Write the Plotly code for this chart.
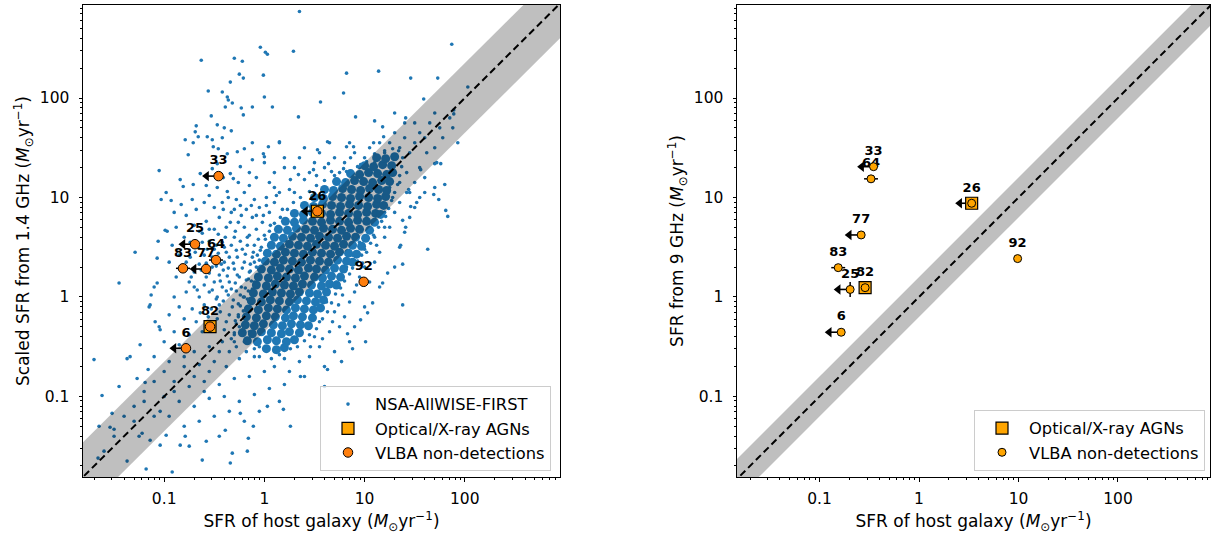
import plotly.graph_objects as go

# ---------------- data ----------------
# VLBA targets: id, host SFR, SFR from 1.4 GHz (scaled), SFR from 9 GHz
src_ids = ["6", "25", "26", "33", "64", "77", "82", "83", "92"]
sfr_host = [0.165, 0.203, 3.38, 0.349, 0.329, 0.262, 0.287, 0.154, 9.8]
sfr_14ghz = [0.305, 3.39, 7.27, 16.4, 2.35, 1.91, 0.503, 1.94, 1.42]
sfr_9ghz = [0.442, 1.19, 8.75, 20.4, 15.4, 4.2, 1.24, 1.97, 2.43]
host_upper_limit = [True, True, True, True, False, True, False, False, False]
is_agn = [False, False, True, False, False, False, True, False, False]
host_err_dex = [0, 0, 0, 0, 0.07, 0, 0, 0.07, 0]
sfr9_err_dex = [0, 0.075, 0, 0, 0, 0, 0, 0, 0]

# scatter of the 1:1 relation (dex)
band_dex_14 = 0.35
band_dex_9 = 0.20

# NSA-AllWISE-FIRST sample, (log10 SFR_host, log10 SFR_1.4GHz), sparse part
nsa_sparse = [
    (0.35, 2.87), (-0.04, 2.51), (0.01, 2.46), (0.03, 2.44), (0.29, 2.47), (-0.63, 2.38), (-0.30, 2.40),
    (-0.22, 2.37), (1.87, 2.54), (0.82, 2.25), (1.14, 2.27), (1.46, 2.20), (1.73, 2.20), (2.03, 2.11),
    (-0.25, 2.24), (-0.21, 2.20), (-0.01, 2.23), (-0.34, 2.16), (-0.56, 2.07), (-0.42, 2.06), (-0.37, 2.01),
    (-0.36, 1.98), (-0.39, 1.91), (-0.32, 1.95), (-0.23, 1.90), (-0.21, 1.83), (-0.12, 1.91), (0.00, 2.01),
    (0.08, 1.91), (0.56, 1.96), (0.79, 2.05), (0.34, 1.81), (1.59, 1.99), (1.89, 1.88), (0.91, 1.81),
    (1.10, 1.77), (1.30, 1.85), (1.41, 1.80), (1.89, 1.84), (-0.53, 1.82), (-0.68, 1.72), (-0.69, 1.66),
    (-0.66, 1.61), (-0.47, 1.73), (-0.40, 1.70), (-0.33, 1.67), (-0.57, 1.61), (-0.52, 1.58), (-0.42, 1.60),
    (-0.79, 1.58), (-0.71, 1.55), (-0.51, 1.51), (-0.46, 1.49), (-0.76, 1.43), (-0.37, 1.44), (-0.27, 1.46),
    (-0.20, 1.49), (-0.12, 1.55), (0.04, 1.51), (-0.01, 1.44), (-0.12, 1.38), (0.15, 1.56), (0.53, 1.48),
    (0.63, 1.56), (0.82, 1.51), (0.89, 1.51), (1.09, 1.55), (1.18, 1.71), (1.19, 1.61), (1.93, 1.55),
    (1.70, 1.34), (1.76, 1.34), (-1.05, 1.27), (-1.03, 0.98), (-0.98, 1.05), (-0.93, 0.97), (-0.84, 1.18),
    (-0.81, 1.11), (-0.71, 1.13), (-0.64, 1.24), (-0.52, 1.29), (-0.47, 1.34), (-0.34, 1.24), (-0.31, 1.19),
    (-0.37, 1.06), (-0.24, 1.31), (0.00, 1.41), (0.26, 1.18), (0.34, 1.23), (0.49, 1.28), (0.67, 1.26),
    (0.79, 1.29), (0.96, 1.33), (1.56, 1.28), (1.80, 1.13), (1.69, 1.03), (1.74, 0.98), (1.81, 0.87),
    (1.83, 0.81), (1.63, 0.48), (1.46, 0.91), (1.44, 1.08), (1.52, 0.95), (1.38, 0.77), (1.41, 0.70),
    (1.36, 0.52), (1.38, 0.33), (1.38, -0.08), (-1.45, 0.14), (-1.29, 0.45), (-1.06, 0.56), (-0.99, 0.67),
    (-1.07, 0.39), (-1.07, 0.14), (-1.13, 0.02), (-1.14, -0.08), (-1.09, -0.25), (-1.04, -0.33),
    (-1.24, -0.48), (-1.34, -0.60), (-1.37, -0.62), (-1.70, -0.63), (-1.16, -0.73), (-1.27, -0.82),
    (-1.19, -0.86), (-1.62, -0.99), (-1.52, -1.17), (-1.54, -1.31), (-1.50, -1.33), (-1.37, -1.65),
    (-1.66, -1.62), (-1.18, -1.73), (-0.92, -1.76), (-1.22, -1.37), (-1.14, -1.44), (-1.04, -1.15),
    (-1.04, -1.49), (-0.98, -1.39), (-0.84, -1.49), (-0.79, -1.40), (-0.62, -1.64), (-0.32, -1.57),
    (-0.34, -1.67), (-0.17, -1.55), (-0.16, -1.42), (-0.39, -1.34), (-0.24, -1.17), (-0.11, -1.30),
    (0.26, -1.30), (0.03, -1.10), (0.19, -1.13), (0.36, -0.80), (0.63, -0.73), (0.77, -0.65), (0.88, -0.52),
    (1.01, -0.45), (0.83, -0.37), (0.96, -0.23), (1.03, -0.16), (1.08, -0.06), (1.18, 0.14), (1.23, 0.24),
]

# NSA-AllWISE-FIRST sample, halo around the dense core
nsa_halo = [
    (-0.55, 1.02), (-0.60, 0.95), (-0.72, 0.98), (-0.83, 0.93), (-0.90, 0.85), (-0.78, 0.82), (-0.68, 0.88),
    (-0.50, 0.90), (-0.42, 0.95), (-0.28, 0.98), (-0.20, 1.05), (-0.15, 1.12), (-0.10, 0.98), (-0.05, 0.90),
    (-0.18, 0.88), (-0.33, 0.85), (-0.45, 0.80), (-0.58, 0.76), (-0.70, 0.72), (-0.88, 0.70), (-0.97, 0.66),
    (-0.62, 0.64), (-0.50, 0.68), (-0.38, 0.70), (-0.26, 0.75), (-0.12, 0.80), (-0.02, 0.75), (0.05, 0.85),
    (0.10, 0.95), (0.15, 1.05), (0.02, 1.00), (-0.08, 1.20), (0.05, 1.15), (0.25, 1.08), (0.20, 1.30),
    (0.30, 1.05), (-0.30, 0.60), (-0.15, 0.62), (-0.42, 0.55), (-0.55, 0.56), (-0.80, 0.60), (-0.92, 0.52),
    (-0.66, 0.50), (-0.74, 0.40), (-0.60, 0.42), (-0.46, 0.44), (-0.35, 0.40), (-0.22, 0.48), (-0.10, 0.52),
    (0.00, 0.62), (-0.95, 0.35), (-0.88, 0.20), (-0.82, 0.30), (-0.75, 0.15), (-0.70, 0.25), (-0.65, 0.33),
    (-0.58, 0.20), (-0.52, 0.30), (-0.45, 0.22), (-0.40, 0.35), (-0.35, 0.15), (-0.30, 0.28), (-0.25, 0.20),
    (-0.20, 0.35), (-0.15, 0.25), (-0.10, 0.15), (-0.42, 0.10), (-0.55, 0.05), (-0.65, 0.00), (-0.78, 0.05),
    (-0.90, 0.00), (-0.85, -0.10), (-0.72, -0.12), (-0.60, -0.08), (-0.48, -0.02), (-0.36, 0.02),
    (-0.28, 0.06), (-0.20, 0.00), (-0.32, -0.10), (-0.44, -0.15), (-0.56, -0.20), (-0.68, -0.25),
    (-0.80, -0.22), (-0.95, -0.18), (-1.05, -0.30), (-0.90, -0.35), (-0.75, -0.38), (-0.62, -0.35),
    (-0.50, -0.30), (-0.38, -0.25), (-0.26, -0.20), (-0.30, -0.38), (-0.42, -0.45), (-0.55, -0.50),
    (-0.70, -0.55), (-0.85, -0.48), (-1.00, -0.45), (-0.35, -0.55), (-0.20, -0.45), (-0.60, 0.12),
    (-0.50, 0.15), (-0.38, 0.45), (-0.27, 0.40), (-0.12, 0.40), (-0.70, 0.10), (-0.45, -0.08),
    (-0.15, -0.10), (-0.25, -0.30), (-1.10, 0.10), (-1.15, -0.10), (-1.10, -0.60), (-0.95, -0.65),
    (-0.80, -0.70), (-0.65, -0.68), (-0.50, -0.65), (-0.38, -0.70), (-0.25, -0.62), (-0.10, -0.60),
    (-0.90, -0.85), (-0.75, -0.90), (-0.60, -0.85), (-0.45, -0.88), (-0.30, -0.82), (-0.15, -0.80),
    (0.00, -0.75), (-1.00, -1.00), (-0.85, -1.05), (-0.70, -1.10), (-0.55, -1.02), (-0.40, -1.00),
    (-0.25, -1.05), (-0.10, -0.98), (0.05, -0.92), (-0.65, -1.25), (-0.50, -1.20), (-0.35, -1.15),
    (-0.20, -1.25), (-0.05, -1.15), (0.15, -1.05), (0.20, -0.88), (-0.80, -1.30), (-1.10, -1.20),
    (-1.30, -1.10), (-1.45, -0.90), (-1.20, -0.95), (0.10, -0.70), (0.25, -0.75), (-0.45, -1.40),
    (-0.75, -1.50), (-0.58, -1.45), (0.35, -0.65), (0.45, -0.60), (0.55, -0.50), (0.40, -0.80),
    (0.60, -0.70), (0.70, -0.55), (0.50, -0.40), (0.65, -0.35), (0.75, -0.30), (0.80, -0.20), (0.70, -0.15),
    (0.85, -0.05), (0.90, 0.05), (0.78, 0.02), (0.95, 0.20), (1.00, 0.30), (1.05, 0.15), (1.10, 0.35),
    (1.15, 0.45), (1.02, 0.45), (1.20, 0.60), (1.10, 0.60), (1.25, 0.70), (1.30, 0.85), (1.20, 0.85),
    (1.35, 0.95), (1.28, 1.00), (1.40, 0.65), (1.45, 0.80), (1.50, 0.90), (1.55, 1.00), (1.45, 1.05),
    (0.90, -0.30), (1.00, -0.10), (0.60, -0.90), (0.85, -0.45), (1.15, 0.10), (1.30, 0.30), (1.35, 0.50),
    (0.95, 0.55), (1.05, 0.70), (0.55, -0.25), (0.62, -0.05), (0.72, 0.15), (0.82, 0.30), (0.88, 0.42),
    (0.30, -0.45), (0.20, -0.62), (0.10, -0.55), (0.35, -0.30), (0.10, 1.25), (0.30, 1.30), (0.45, 1.25),
    (0.60, 1.30), (0.70, 1.40), (0.80, 1.35), (0.90, 1.45), (1.00, 1.40), (0.55, 1.45), (0.40, 1.50),
    (0.65, 1.55), (0.85, 1.55), (0.20, 1.40), (0.15, 1.55), (0.35, 1.40), (0.00, 1.35), (0.50, 1.35),
    (0.75, 1.25), (0.95, 1.30), (1.10, 1.35), (1.20, 1.45), (1.25, 1.55), (1.30, 1.40), (1.35, 1.50),
    (1.40, 1.60), (1.45, 1.45), (1.50, 1.55), (1.55, 1.65), (1.50, 1.75), (1.60, 1.60), (1.65, 1.75),
    (1.70, 1.85), (1.75, 1.70), (1.85, 1.80), (1.62, 1.45), (1.70, 1.50), (1.78, 1.60), (1.40, 1.75),
    (1.30, 1.65), (1.15, 1.55), (1.05, 1.50), (1.88, 1.70), (1.72, 1.35), (1.55, 1.30), (1.42, 1.25),
    (1.60, 1.20), (1.50, 1.15), (1.35, 1.15), (1.30, 1.25), (1.25, 1.10), (1.42, 1.05), (1.60, 1.05),
    (1.70, 1.10), (-1.30, -1.25), (-1.20, -1.05), (-1.10, -0.85), (-1.00, -0.75), (-0.90, -0.95),
    (-0.80, -0.60), (-0.70, -0.80), (-0.55, -0.75), (-0.45, -0.55), (-1.50, -1.40), (-1.40, -1.20),
    (-1.25, -1.40), (-1.60, -1.55), (-1.65, -1.30), (-0.95, -1.20), (-0.60, -0.95), (-0.30, -0.45),
    (-0.15, -0.35), (-0.05, -0.50),
    # left of the core, denser part
    (-0.62, 0.55), (-0.57, 0.48), (-0.52, 0.40), (-0.48, 0.52), (-0.43, 0.33), (-0.39, 0.60), (-0.33, 0.52),
    (-0.31, 0.34), (-0.28, 0.47), (-0.24, 0.56), (-0.22, 0.29), (-0.19, 0.43), (-0.17, 0.52), (-0.14, 0.33),
    (-0.11, 0.45), (-0.08, 0.30), (-0.06, 0.58), (-0.04, 0.47), (-0.63, 0.27), (-0.55, 0.24), (-0.48, 0.31),
    (-0.41, 0.27), (-0.37, 0.21), (-0.33, 0.08), (-0.29, 0.14), (-0.23, 0.10), (-0.18, 0.17), (-0.12, 0.08),
    (-0.08, 0.22), (-0.52, 0.07), (-0.47, 0.00), (-0.41, -0.04), (-0.38, 0.06), (-0.26, -0.07),
    (-0.21, -0.14), (-0.24, 0.02), (-0.17, -0.02), (-0.35, -0.18), (-0.29, -0.24), (-0.22, -0.33),
    (-0.40, -0.33), (-0.47, -0.22), (-0.53, -0.12), (-0.64, -0.16), (-0.58, -0.28), (-0.67, 0.07),
    (-0.73, 0.20), (-0.78, 0.35), (-0.85, 0.42), (-0.69, 0.45), (-0.74, 0.55), (-0.65, 0.66), (-0.55, 0.68),
    (-0.46, 0.63), (-0.34, 0.75), (-0.20, 0.70), (-0.08, 0.68), (-0.30, 0.88), (-0.41, 0.88), (-0.23, 0.82),
    (-0.13, 0.92), (-0.01, 0.82), (0.06, 0.72), (-0.47, 1.10), (-0.58, 1.12), (-0.26, 1.15), (-0.41, 1.20),
    (-0.15, 1.25), (0.10, 1.10), (0.18, 0.88),
    (-0.44, 0.16), (-0.36, 0.29), (-0.27, 0.22), (-0.16, 0.06), (-0.31, -0.03), (-0.13, 0.16),
    (-0.05, 0.37), (-0.02, 0.29), (-0.58, 0.34), (-0.50, 0.48), (-0.40, 0.50), (-0.29, 0.66),
    (-0.17, 0.60), (-0.08, 0.82), (0.02, 0.92), (-0.24, 0.92), (0.12, 1.02), (-0.36, 1.00),
    (0.40, 1.18), (0.52, 1.22), (0.64, 1.34), (0.86, 1.40), (0.46, -0.50), (0.58, -0.42),
    (0.68, -0.25), (0.74, -0.08), (0.92, 0.12), (0.98, 0.34), (1.12, 0.52), (1.20, 0.70),
    # rim of the dense core
    (-0.33, -0.42), (-0.28, -0.50), (-0.18, -0.55), (-0.10, -0.52), (-0.05, -0.60), (0.07, -0.62),
    (0.15, -0.58), (0.26, -0.52), (0.33, -0.50), (0.40, -0.44), (0.45, -0.38), (0.52, -0.32), (0.58, -0.22),
    (0.63, -0.15), (0.67, -0.06), (0.71, 0.03), (0.76, 0.09), (0.80, 0.16), (0.85, 0.23), (0.88, 0.29),
    (0.93, 0.36), (0.97, 0.42), (1.00, 0.48), (1.06, 0.54), (1.09, 0.62), (1.14, 0.70), (1.17, 0.76),
    (1.21, 0.81), (1.24, 0.89), (1.27, 0.97), (1.30, 1.05), (1.33, 1.13), (1.35, 1.22), (1.37, 1.31),
    (1.38, 1.40), (1.34, 1.47), (1.28, 1.49), (1.20, 1.47), (1.10, 1.44), (1.02, 1.36), (0.93, 1.31),
    (0.82, 1.26), (0.70, 1.22), (0.60, 1.17), (0.52, 1.12), (0.45, 1.06), (0.36, 1.00), (0.29, 0.95),
    (0.23, 0.88), (0.16, 0.80), (0.10, 0.74), (0.05, 0.66), (0.01, 0.58), (-0.03, 0.50), (-0.07, 0.42),
    (-0.10, 0.35), (-0.14, 0.26), (-0.16, 0.18), (-0.19, 0.09), (-0.21, 0.00), (-0.24, -0.09),
    (-0.26, -0.18), (-0.28, -0.27), (-0.30, -0.36),
]

# NSA-AllWISE-FIRST sample, densely packed core (overlapping points)
nsa_core = [
    (0.02, -0.52), (0.12, -0.53), (0.20, -0.51),
    (-0.17, -0.44), (-0.07, -0.45), (0.03, -0.43), (0.12, -0.44), (0.22, -0.45), (0.30, -0.43),
    (-0.22, -0.36), (-0.12, -0.37), (-0.03, -0.35), (0.07, -0.36), (0.17, -0.37), (0.25, -0.35), (0.35, -0.36),
    (-0.19, -0.28), (-0.10, -0.29), (-0.01, -0.27), (0.09, -0.28), (0.18, -0.29), (0.27, -0.27), (0.36, -0.28),
    (0.44, -0.29),
    (-0.18, -0.20), (-0.08, -0.21), (0.02, -0.19), (0.11, -0.20), (0.21, -0.21), (0.29, -0.19), (0.38, -0.20),
    (0.48, -0.21),
    (-0.16, -0.12), (-0.06, -0.13), (0.04, -0.11), (0.13, -0.12), (0.22, -0.13), (0.31, -0.11), (0.40, -0.12),
    (0.49, -0.13), (0.56, -0.11),
    (-0.13, -0.04), (-0.03, -0.05), (0.06, -0.03), (0.15, -0.04), (0.25, -0.05), (0.33, -0.03), (0.42, -0.04),
    (0.51, -0.05), (0.59, -0.03),
    (-0.11, 0.04), (-0.01, 0.03), (0.08, 0.05), (0.17, 0.04), (0.26, 0.03), (0.35, 0.05), (0.45, 0.04),
    (0.53, 0.03), (0.62, 0.05),
    (-0.08, 0.12), (0.02, 0.11), (0.11, 0.13), (0.20, 0.12), (0.29, 0.11), (0.38, 0.13), (0.47, 0.12),
    (0.57, 0.11), (0.65, 0.13), (0.72, 0.12),
    (-0.06, 0.20), (0.04, 0.19), (0.13, 0.21), (0.22, 0.20), (0.31, 0.19), (0.40, 0.21), (0.50, 0.20),
    (0.58, 0.19), (0.67, 0.21), (0.76, 0.20),
    (-0.03, 0.28), (0.07, 0.27), (0.16, 0.29), (0.25, 0.28), (0.34, 0.27), (0.44, 0.29), (0.52, 0.28),
    (0.61, 0.27), (0.70, 0.29), (0.79, 0.28),
    (0.01, 0.36), (0.10, 0.35), (0.19, 0.37), (0.28, 0.36), (0.37, 0.35), (0.46, 0.37), (0.55, 0.36),
    (0.64, 0.35), (0.73, 0.37), (0.82, 0.36), (0.88, 0.35),
    (0.03, 0.44), (0.12, 0.43), (0.21, 0.45), (0.30, 0.44), (0.39, 0.43), (0.48, 0.45), (0.57, 0.44),
    (0.66, 0.43), (0.75, 0.45), (0.84, 0.44), (0.92, 0.43),
    (0.07, 0.52), (0.16, 0.51), (0.25, 0.53), (0.34, 0.52), (0.43, 0.51), (0.52, 0.53), (0.61, 0.52),
    (0.70, 0.51), (0.79, 0.53), (0.88, 0.52), (0.97, 0.51),
    (0.10, 0.60), (0.19, 0.59), (0.28, 0.61), (0.37, 0.60), (0.46, 0.59), (0.55, 0.61), (0.64, 0.60),
    (0.73, 0.59), (0.82, 0.61), (0.91, 0.60), (1.01, 0.59),
    (0.14, 0.68), (0.23, 0.67), (0.32, 0.69), (0.41, 0.68), (0.50, 0.67), (0.59, 0.69), (0.68, 0.68),
    (0.77, 0.67), (0.86, 0.69), (0.95, 0.68), (1.05, 0.67),
    (0.21, 0.76), (0.30, 0.75), (0.39, 0.77), (0.48, 0.76), (0.57, 0.75), (0.66, 0.77), (0.75, 0.76),
    (0.84, 0.75), (0.93, 0.77), (1.02, 0.76), (1.10, 0.75),
    (0.30, 0.84), (0.39, 0.83), (0.48, 0.85), (0.57, 0.84), (0.66, 0.83), (0.75, 0.85), (0.84, 0.84),
    (0.93, 0.83), (1.02, 0.85), (1.11, 0.84), (1.16, 0.83),
    (0.40, 0.92), (0.49, 0.91), (0.58, 0.93), (0.67, 0.92), (0.76, 0.91), (0.85, 0.93), (0.94, 0.92),
    (1.03, 0.91), (1.12, 0.93), (1.19, 0.92),
    (0.50, 1.00), (0.59, 0.99), (0.68, 1.01), (0.77, 1.00), (0.86, 0.99), (0.95, 1.01), (1.04, 1.00),
    (1.13, 0.99), (1.21, 1.01),
    (0.60, 1.08), (0.69, 1.07), (0.78, 1.09), (0.87, 1.08), (0.96, 1.07), (1.05, 1.09), (1.14, 1.08),
    (1.22, 1.07),
    (0.72, 1.16), (0.81, 1.15), (0.90, 1.17), (0.99, 1.16), (1.08, 1.15), (1.17, 1.17), (1.25, 1.16),
    (0.86, 1.24), (0.95, 1.23), (1.04, 1.25), (1.13, 1.24), (1.22, 1.23), (1.28, 1.25),
    (1.00, 1.32), (1.09, 1.31), (1.18, 1.33), (1.27, 1.32),
    (1.12, 1.40), (1.21, 1.39), (1.30, 1.41),
]

# ---------------- styling ----------------
FONT = "DejaVu Sans"
BLUE = "#1f77b4"
C_LEFT = "#ff7f0e"
C_RIGHT = "#ffa500"
C_AGN = "#ffa500"
ARROW_LINE_DEX = 0.12   # arrow shaft length (log units)
XR = [-1.81, 2.95]
YR = [-1.81, 2.935]
XR2 = [-1.83, 2.925]

fig = go.Figure()


def nsa_trace(points, size, show, name=None):
    return go.Scatter(
        x=[10 ** p[0] for p in points], y=[10 ** p[1] for p in points],
        mode="markers", marker=dict(color=BLUE, size=size, line=dict(width=0)),
        name=name, showlegend=show, legend="legend",
        xaxis="x", yaxis="y", hoverinfo="skip")


fig.add_trace(nsa_trace(nsa_core, 9, False))
fig.add_trace(nsa_trace(nsa_halo, 3.6, False))
fig.add_trace(nsa_trace(nsa_sparse, 3.6, True, "NSA-AllWISE-FIRST"))


def add_panel(xa, ya, yvals, band_dex, circ_color, circ_size, legend, yerr_dex):
    lo, hi = 10 ** -2.5, 10 ** 3.5
    fig.add_trace(go.Scatter(
        x=[lo, hi, hi, lo, lo],
        y=[lo * 10 ** -band_dex, hi * 10 ** -band_dex, hi * 10 ** band_dex, lo * 10 ** band_dex,
           lo * 10 ** -band_dex],
        mode="lines", fill="toself", fillcolor="rgba(0,0,0,0.25)", line=dict(width=0),
        showlegend=False, xaxis=xa, yaxis=ya, hoverinfo="skip"))
    fig.add_trace(go.Scatter(
        x=[lo, hi], y=[lo, hi], mode="lines", line=dict(color="black", width=2, dash="7px,4px"),
        showlegend=False, xaxis=xa, yaxis=ya, hoverinfo="skip"))
    # labels (transparent markers set the offset of the text above each point)
    fig.add_trace(go.Scatter(
        x=sfr_host, y=yvals, mode="markers+text", text=["<b>%s</b>" % s for s in src_ids],
        marker=dict(size=12, color="rgba(0,0,0,0)", line=dict(width=0)),
        textposition="top center", textfont=dict(family=FONT, size=13, color="black"),
        showlegend=False, xaxis=xa, yaxis=ya, hoverinfo="skip"))
    # upper-limit arrows
    ax_, ay_, hx, hy = [], [], [], []
    for x, y, ul in zip(sfr_host, yvals, host_upper_limit):
        if ul:
            xt = x * 10 ** -ARROW_LINE_DEX
            ax_ += [x, xt, None]
            ay_ += [y, y, None]
            hx.append(xt)
            hy.append(y)
    fig.add_trace(go.Scatter(x=ax_, y=ay_, mode="lines", line=dict(color="black", width=1.6),
                             showlegend=False, xaxis=xa, yaxis=ya, hoverinfo="skip"))
    fig.add_trace(go.Scatter(x=hx, y=hy, mode="markers",
                             marker=dict(symbol="triangle-left", size=9, color="black", line=dict(width=0)),
                             showlegend=False, xaxis=xa, yaxis=ya, hoverinfo="skip"))
    # AGN squares
    fig.add_trace(go.Scatter(
        x=[x for x, a in zip(sfr_host, is_agn) if a], y=[y for y, a in zip(yvals, is_agn) if a],
        mode="markers", name="Optical/X-ray AGNs",
        marker=dict(symbol="square", size=12, color=C_AGN, line=dict(color="black", width=1.2)),
        legend=legend, xaxis=xa, yaxis=ya))
    # VLBA non-detections with error bars
    xp = [x * (10 ** e - 1) for x, e in zip(sfr_host, host_err_dex)]
    xm = [x * (1 - 10 ** -e) for x, e in zip(sfr_host, host_err_dex)]
    yp = [y * (10 ** e - 1) for y, e in zip(yvals, yerr_dex)]
    ym = [y * (1 - 10 ** -e) for y, e in zip(yvals, yerr_dex)]
    fig.add_trace(go.Scatter(
        x=sfr_host, y=yvals, mode="markers", name="VLBA non-detections",
        marker=dict(symbol="circle", size=circ_size, color=circ_color, line=dict(color="black", width=1)),
        error_x=dict(type="data", array=xp, arrayminus=xm, color="black", thickness=1.5, width=0),
        error_y=dict(type="data", array=yp, arrayminus=ym, color="black", thickness=1.5, width=0),
        legend=legend, xaxis=xa, yaxis=ya))


add_panel("x", "y", sfr_14ghz, band_dex_14, C_LEFT, 9.5, "legend", [0] * len(src_ids))
add_panel("x2", "y2", sfr_9ghz, band_dex_9, C_RIGHT, 8, "legend2", sfr9_err_dex)

minor_vals = [m * 10 ** d for d in range(-2, 3) for m in range(2, 10)]


def axis(rng, domain, title, anchor, letter):
    return dict(
        type="log", range=rng, domain=domain, anchor=anchor,
        showline=True, linecolor="black", linewidth=1, mirror=True,
        ticks="outside", ticklen=3.5, tickwidth=1, tickcolor="black",
        tickvals=[0.1, 1, 10, 100], ticktext=["0.1", "1", "10", "100"],
        minor=dict(tickvals=minor_vals, ticks="outside", ticklen=2, tickwidth=0.8,
                   tickcolor="black", showgrid=False),
        showgrid=False, zeroline=False,
        tickfont=dict(family=FONT, size=15.5, color="black"),
        ticklabelstandoff=4 if letter == "x" else 6,
        title=dict(text=title, font=dict(family=FONT, size=17, color="black"),
                   standoff=8 if letter == "x" else 5),
        automargin=False)


unit = " (<i>M</i><sub>⊙</sub>yr<sup>−1</sup>)"
L, R, T, B = 83, 1, 5, 60
W = 1211 - L - R
H = 537 - T - B
d1 = [0, (560 - L) / W]
d2 = [(737 - L) / W, 1.0]

legend_common = dict(xanchor="right", yanchor="bottom",
                     bgcolor="rgba(255,255,255,0.8)", bordercolor="#cccccc", borderwidth=1,
                     font=dict(family=FONT, size=16.3, color="black"), itemwidth=44,
                     traceorder="normal")

fig.update_layout(
    width=1211, height=537, template="none",
    paper_bgcolor="white", plot_bgcolor="white",
    margin=dict(l=L, r=R, t=T, b=B),
    xaxis=axis(XR, d1, "SFR of host galaxy" + unit, "y", "x"),
    yaxis=axis(YR, [0, 1], "Scaled SFR from 1.4 GHz" + unit, "x", "y"),
    xaxis2=axis(XR2, d2, "SFR of host galaxy" + unit, "y2", "x"),
    yaxis2=axis(YR, [0, 1], "SFR from 9 GHz" + unit, "x2", "y"),
    legend=dict(x=(551 - L) / W, y=(537 - B - 471) / H, **legend_common),
    legend2=dict(x=(1205 - L) / W, y=(537 - B - 471) / H, **legend_common),
    font=dict(family=FONT, size=14, color="black"),
    showlegend=True,
)

fig.write_html("out.html", config={"displayModeBar": False},
               post_script="document.body.style.margin='0px';")
